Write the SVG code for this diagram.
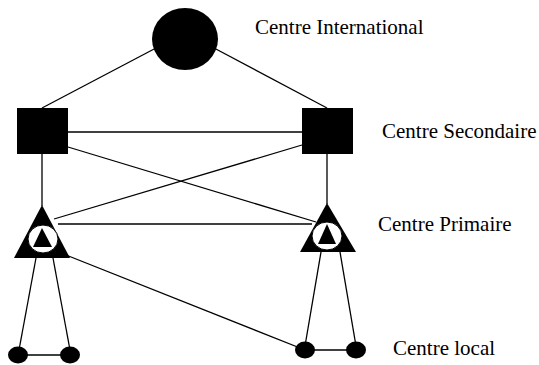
<svg xmlns="http://www.w3.org/2000/svg" width="539" height="365" viewBox="0 0 539 365">
<style>
.ln{stroke:#000;stroke-width:1.3;fill:none}
.blk{fill:#000}
.lbl{font-family:"Liberation Serif","Times New Roman",serif;font-size:21px;fill:#000}
</style>
<rect width="539" height="365" fill="#fff"/>
<g id="connectors">
<line class="ln" x1="156" y1="48" x2="42" y2="108"/>
<line class="ln" x1="214" y1="48" x2="327" y2="108"/>
<line class="ln" x1="68" y1="132" x2="302" y2="132"/>
<line class="ln" x1="68" y1="147" x2="316" y2="222"/>
<line class="ln" x1="302" y1="145" x2="54" y2="219"/>
<line class="ln" x1="58" y1="224" x2="312" y2="224"/>
<line class="ln" x1="42" y1="154" x2="42" y2="206"/>
<line class="ln" x1="327" y1="154" x2="327" y2="204"/>
<line class="ln" x1="36" y1="258" x2="19" y2="350"/>
<line class="ln" x1="53" y1="258" x2="70" y2="350"/>
<line class="ln" x1="19" y1="355" x2="70" y2="355"/>
<line class="ln" x1="66" y1="255" x2="300" y2="348"/>
<line class="ln" x1="321" y1="252" x2="305" y2="346"/>
<line class="ln" x1="340" y1="252" x2="356" y2="346"/>
<line class="ln" x1="305" y1="350" x2="356" y2="350"/>
</g>
<g id="centre-international">
<ellipse class="blk" cx="185" cy="39" rx="33" ry="31"/>
<text class="lbl" x="255" y="34">Centre International</text>
</g>
<g id="secondaire-gauche">
<rect class="blk" x="17" y="108" width="51" height="46"/>
</g>
<g id="secondaire-droite">
<rect class="blk" x="302" y="108" width="51" height="46"/>
<text class="lbl" x="382" y="138">Centre Secondaire</text>
</g>
<g id="primaire-gauche">
<polygon class="blk" points="42,205 14,258 70,258"/>
<ellipse cx="43" cy="239" rx="15" ry="14" fill="#fff" stroke="#000" stroke-width="1"/>
<polygon class="blk" points="42,228 33,247 52,247"/>
</g>
<g id="primaire-droite">
<polygon class="blk" points="327,203 300,252 356,252"/>
<ellipse cx="327" cy="236" rx="15" ry="14" fill="#fff" stroke="#000" stroke-width="1"/>
<polygon class="blk" points="327,224 318,244 336,244"/>
<text class="lbl" x="378" y="231">Centre Primaire</text>
</g>
<g id="local-gauche">
<ellipse class="blk" cx="18" cy="355" rx="10" ry="8.5"/>
<ellipse class="blk" cx="70" cy="355" rx="10" ry="8.5"/>
</g>
<g id="local-droite">
<ellipse class="blk" cx="305" cy="350" rx="10" ry="8.5"/>
<ellipse class="blk" cx="356" cy="350" rx="10" ry="8.5"/>
<text class="lbl" x="393" y="355">Centre local</text>
</g>
</svg>
